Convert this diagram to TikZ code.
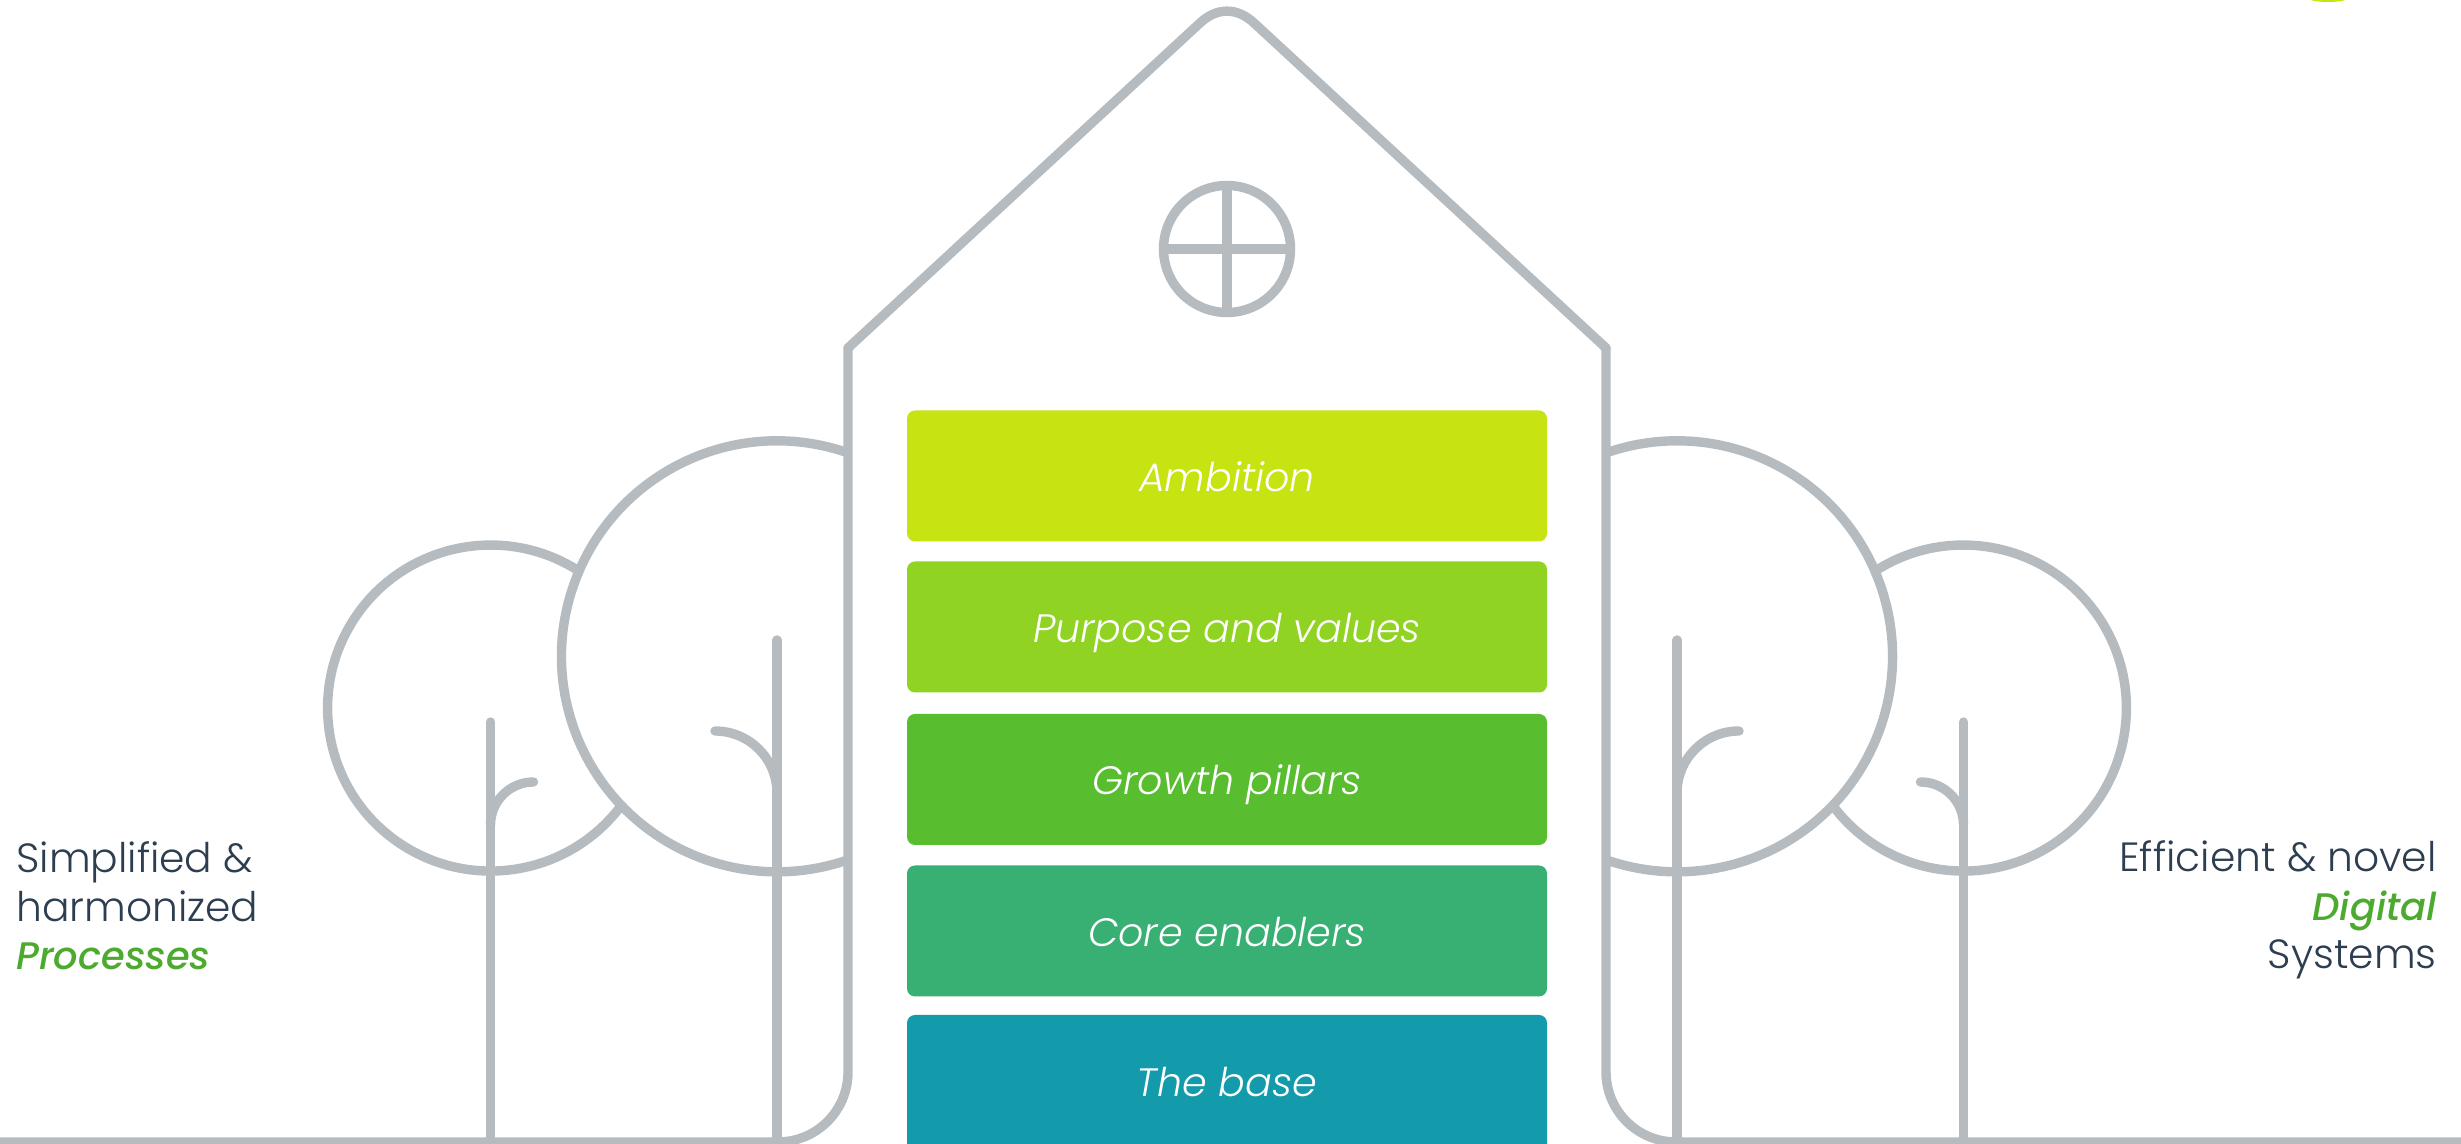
\documentclass[tikz,border=0pt]{standalone}
\usepackage{fontspec}
\setmainfont{Poppins Light}[ItalicFont={Poppins Light Italic}]
\newfontfamily\accentfont{Poppins Medium Italic}
\definecolor{linegrey}{HTML}{B5BBBF}
\definecolor{inkdark}{HTML}{2C3E50}
\definecolor{leafgreen}{HTML}{4CAA2F}
\definecolor{boxa}{HTML}{C8E312}
\definecolor{boxb}{HTML}{91D323}
\definecolor{boxc}{HTML}{58BD2F}
\definecolor{boxd}{HTML}{38B073}
\definecolor{boxe}{HTML}{139AAB}
\tikzset{
  structure/.style={draw=linegrey,line width=4.7pt,line cap=round,line join=round},
  bandfont/.style={text=white,font=\fontsize{19.8}{22}\selectfont\itshape},
  band/.style={rounded corners=4pt,minimum width=320pt,minimum height=65.5pt,inner sep=0pt,text height=15.5pt,text depth=0pt,bandfont},
  sidetext/.style={inner sep=0pt,text=inkdark,font=\fontsize{20.4}{24.3}\selectfont}
}
\newcommand{\accentword}[1]{\textcolor{leafgreen}{\fontsize{19.2}{24.3}\selectfont\accentfont #1}}
\newcommand{\sidescene}{%
  % big tree crown, small tree crown
  \draw[structure,line cap=butt] (848,1144-452.9) arc[start angle=70.76,end angle=289.24,radius=107.75pt];
  \draw[structure,line cap=butt] (577.7,1144-570.3) arc[start angle=57.7,end angle=322.9,radius=81.5pt];
  % trunks and branches
  \draw[structure] (777,1144-640) -- (777,0);
  \draw[structure] (490.5,1144-722) -- (490.5,0);
  \draw[structure] (777,1144-793) arc[start angle=0,end angle=90,radius=31pt];
  \draw[structure] (490.5,1144-825) arc[start angle=180,end angle=90,radius=21.5pt];
  % wall and ground
  \draw[structure] (-20,2) -- (778,2) arc[start angle=-90,end angle=0,radius=35pt] -- (848,1144-348);
}
\begin{document}
\begin{tikzpicture}[x=0.5pt,y=0.5pt]
\useasboundingbox (0,0) rectangle (2461,1144);
\clip (0,0) rectangle (2461,1144);
\sidescene
\begin{scope}[shift={(2454,0)},xscale=-1]
\sidescene
\end{scope}
% roof
\draw[structure] (848,1144-348) -- (1200,1144-23)
  .. controls (1217,1144-7.2) and (1237,1144-7.2) .. (1254,1144-23)
  -- (1606,1144-348);
% window
\node[structure,circle,minimum size=63.5pt,inner sep=0pt,outer sep=0pt] (window) at (1227,1144-249) {};
\draw[structure,line cap=butt] (window.north) -- (window.south);
\draw[structure,line cap=butt] (window.west) -- (window.east);
% bands
\node[band,fill=boxa] (ambition) at (1227,1144-476) {Ambition};
\node[band,fill=boxb] (purpose) at (1227,1144-627) {Purpose and values};
\node[band,fill=boxc] (growth) at (1227,1144-779.5) {Growth pillars};
\node[band,fill=boxd] (core) at (1227,1144-931) {Core enablers};
\node[rounded corners=4pt,minimum width=320pt,minimum height=75pt,inner sep=0pt,fill=boxe] (base) at (1227,1144-1090) {};
\node[bandfont,inner sep=0pt,text height=15.5pt,text depth=0pt] (basetext) at (1227,1144-1081.5) {The base};
% side texts
\node[sidetext,anchor=west,align=left] (lefttext) at (16,1144-906) {Simplified \&\\harmonized\\\accentword{Processes}};
\node[sidetext,anchor=east,align=right] (righttext) at (2437,1144-910) {Efficient \& novel\\\accentword{Digital}\\Systems};
% accent at the top edge
\fill[boxa] (2328,1146) ellipse [x radius=10pt,y radius=2pt];
\end{tikzpicture}
\end{document}
